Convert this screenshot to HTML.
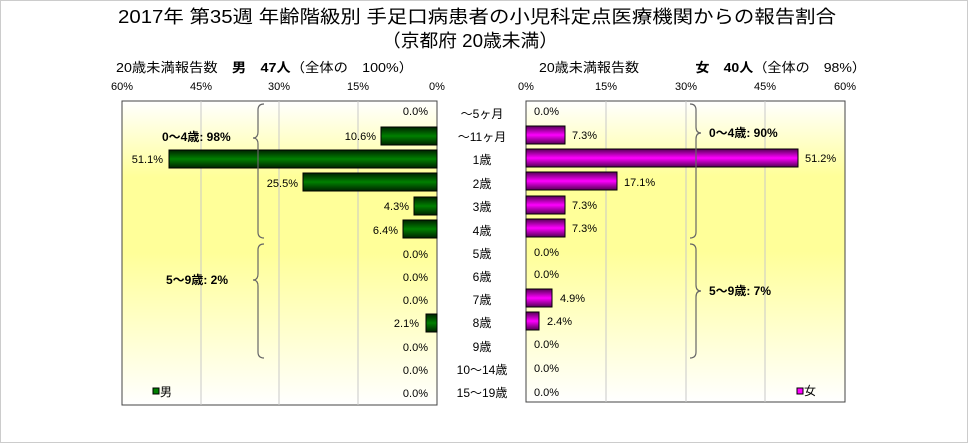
<!DOCTYPE html>
<html><head><meta charset="utf-8"><style>
body{margin:0;background:#fff}
svg{display:block;font-family:"Liberation Sans","Noto Sans CJK JP",sans-serif}
</style></head><body>
<svg width="968" height="443" viewBox="0 0 968 443" xmlns="http://www.w3.org/2000/svg">
<defs>
<linearGradient id="bg" x1="0" y1="0" x2="0" y2="1">
<stop offset="0" stop-color="#ffffff"/><stop offset="0.25" stop-color="#ffff99"/><stop offset="0.5" stop-color="#ffff99"/><stop offset="1" stop-color="#ffffff"/>
</linearGradient>
<linearGradient id="gm" x1="0" y1="0" x2="0" y2="1">
<stop offset="0" stop-color="#002200"/><stop offset="0.5" stop-color="#008000"/><stop offset="1" stop-color="#002200"/>
</linearGradient>
<linearGradient id="gf" x1="0" y1="0" x2="0" y2="1">
<stop offset="0" stop-color="#550055"/><stop offset="0.5" stop-color="#ff00ff"/><stop offset="1" stop-color="#550055"/>
</linearGradient>
</defs>
<rect x="0.5" y="0.5" width="967" height="442" fill="#fff" stroke="#ccc"/>
<text x="118" y="23" font-size="18" textLength="718" lengthAdjust="spacingAndGlyphs">2017年 第35週 年齢階級別 手足口病患者の小児科定点医療機関からの報告割合</text>
<text x="382" y="47" font-size="18" textLength="176" lengthAdjust="spacingAndGlyphs">（京都府 20歳未満）</text>
<text x="116" y="72" font-size="13" textLength="297" lengthAdjust="spacingAndGlyphs">20歳未満報告数　<tspan font-weight="bold">男　47人</tspan>（全体の　100%）</text>
<text x="539" y="72" font-size="13" textLength="327" lengthAdjust="spacingAndGlyphs">20歳未満報告数　　　　<tspan font-weight="bold">女　40人</tspan>（全体の　98%）</text>
<g font-size="11" text-anchor="middle">
<text x="122" y="90">60%</text><text x="201" y="90">45%</text><text x="279" y="90">30%</text><text x="358" y="90">15%</text><text x="437" y="90">0%</text>
<text x="526" y="90">0%</text><text x="606" y="90">15%</text><text x="686" y="90">30%</text><text x="765" y="90">45%</text><text x="845" y="90">60%</text>
</g>
<rect x="122" y="101" width="315" height="304" fill="url(#bg)" stroke="#444"/>
<rect x="526" y="101" width="319" height="301" fill="url(#bg)" stroke="#444"/>
<g stroke="#c8c8c8">
<line x1="201" y1="101" x2="201" y2="405"/><line x1="279" y1="101" x2="279" y2="405"/><line x1="358" y1="101" x2="358" y2="405"/>
<line x1="606" y1="101" x2="606" y2="402"/><line x1="686" y1="101" x2="686" y2="402"/><line x1="765" y1="101" x2="765" y2="402"/>
</g>
<g stroke="#000" stroke-width="1" fill="url(#gm)">
<rect x="381" y="127" width="56" height="18"/>
<rect x="169" y="150" width="268" height="18"/>
<rect x="303" y="173" width="134" height="18"/>
<rect x="414" y="197" width="23" height="18"/>
<rect x="403" y="220" width="34" height="18"/>
<rect x="426" y="314" width="11" height="18"/>
</g>
<g fill="url(#gf)" stroke="#000">
<rect x="526" y="126" width="39" height="18"/>
<rect x="526" y="149" width="272" height="18"/>
<rect x="526" y="172" width="91" height="18"/>
<rect x="526" y="196" width="39" height="18"/>
<rect x="526" y="219" width="39" height="18"/>
<rect x="526" y="289" width="26" height="18"/>
<rect x="526" y="312" width="13" height="18"/>
</g>
<g font-size="11" text-anchor="end">
<text x="428" y="115">0.0%</text>
<text x="376" y="140">10.6%</text>
<text x="163" y="163">51.1%</text>
<text x="298" y="187">25.5%</text>
<text x="409" y="210">4.3%</text>
<text x="398" y="234">6.4%</text>
<text x="428" y="258">0.0%</text>
<text x="428" y="281">0.0%</text>
<text x="428" y="304">0.0%</text>
<text x="419" y="327">2.1%</text>
<text x="428" y="351">0.0%</text>
<text x="428" y="374">0.0%</text>
<text x="428" y="397">0.0%</text>
</g>
<g font-size="11">
<text x="534" y="115">0.0%</text>
<text x="572" y="139">7.3%</text>
<text x="805" y="162">51.2%</text>
<text x="624" y="186">17.1%</text>
<text x="572" y="209">7.3%</text>
<text x="572" y="232">7.3%</text>
<text x="534" y="256">0.0%</text>
<text x="534" y="278">0.0%</text>
<text x="560" y="302">4.9%</text>
<text x="547" y="325">2.4%</text>
<text x="534" y="348">0.0%</text>
<text x="534" y="372">0.0%</text>
<text x="534" y="396">0.0%</text>
</g>
<g font-size="12" text-anchor="middle">
<text x="482" y="118">～5ヶ月</text>
<text x="482" y="141">～11ヶ月</text>
<text x="482" y="164">1歳</text>
<text x="482" y="188">2歳</text>
<text x="482" y="211">3歳</text>
<text x="482" y="235">4歳</text>
<text x="482" y="258">5歳</text>
<text x="482" y="281">6歳</text>
<text x="482" y="304">7歳</text>
<text x="482" y="327">8歳</text>
<text x="482" y="351">9歳</text>
<text x="482" y="374">10～14歳</text>
<text x="482" y="397">15～19歳</text>
</g>
<g fill="none" stroke="#666" stroke-width="1.2">
<path d="M264,104 Q258,104 258,110 L258,132 Q258,138 253,138 Q258,138 258,144 L258,232 Q258,238 264,238"/>
<path d="M264,244 Q258,244 258,250 L258,274 Q258,280 253,280 Q258,280 258,286 L258,352 Q258,358 264,358"/>
<path d="M690,104 Q696,104 696,110 L696,127 Q696,133 701,133 Q696,133 696,139 L696,232 Q696,238 690,238"/>
<path d="M690,244 Q696,244 696,250 L696,285 Q696,291 701,291 Q696,291 696,297 L696,352 Q696,358 690,358"/>
</g>
<g font-size="12" font-weight="bold">
<text x="162" y="141">0～4歳: 98%</text>
<text x="166" y="284">5～9歳: 2%</text>
<text x="709" y="137">0～4歳: 90%</text>
<text x="709" y="295">5～9歳: 7%</text>
</g>
<rect x="153" y="388" width="6" height="6" fill="#008000" stroke="#000"/>
<text x="160" y="396" font-size="12">男</text>
<rect x="797" y="388" width="6" height="6" fill="#ff00ff" stroke="#000"/>
<text x="804" y="395" font-size="12">女</text>
</svg>
</body></html>
